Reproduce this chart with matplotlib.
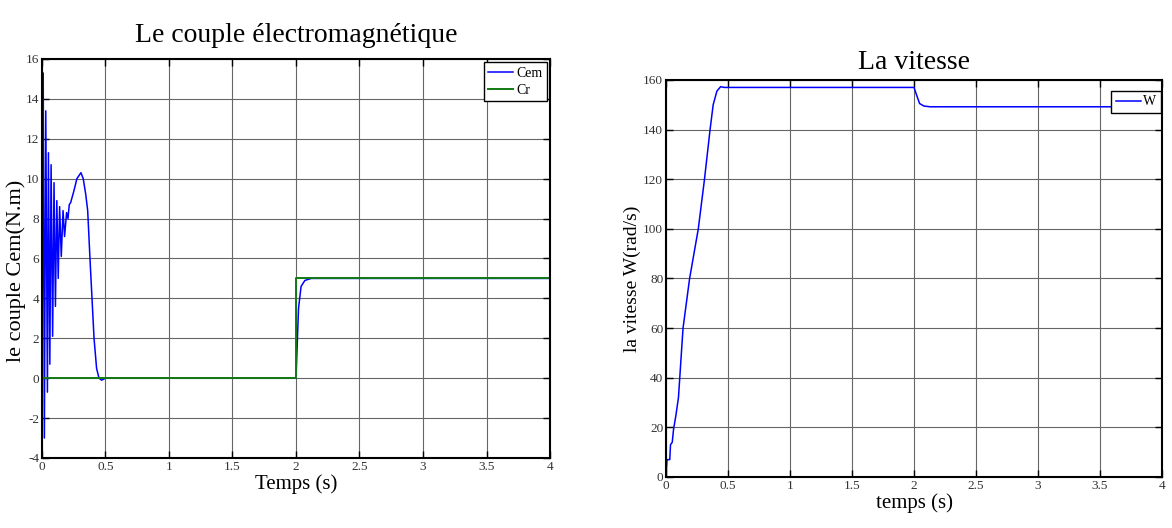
"""Couple électromagnétique et vitesse d'un moteur : réponse au démarrage et à l'application de la charge."""

import matplotlib

matplotlib.use("Agg")
import matplotlib.pyplot as plt

plt.rcParams["font.family"] = ["Liberation Serif", "DejaVu Serif"]

# couple électromagnétique Cem (N.m)
t_cem = [0.0, 0.010, 0.019, 0.030, 0.043, 0.051, 0.062, 0.072, 0.084, 0.095,
         0.106, 0.117, 0.128, 0.139, 0.152, 0.166, 0.178, 0.194, 0.205, 0.215,
         0.226, 0.252, 0.275, 0.307, 0.325, 0.345, 0.360, 0.378, 0.394, 0.410,
         0.430, 0.449, 0.470, 0.500, 2.000, 2.020, 2.040, 2.070, 2.120, 4.000]
cem = [0.0, 15.3, -3.0, 13.4, -0.7, 11.3, 0.7, 10.7, 2.1, 9.8,
       3.6, 8.9, 5.0, 8.6, 6.1, 8.4, 7.1, 8.3, 8.0, 8.7,
       8.8, 9.4, 10.0, 10.3, 10.0, 9.2, 8.4, 6.0, 4.0, 2.0,
       0.5, 0.0, -0.1, 0.0, 0.0, 3.5, 4.6, 4.9, 5.0, 5.0]

# couple résistant Cr (N.m)
t_cr = [0.0, 2.0, 2.0, 4.0]
cr = [0.0, 0.0, 5.0, 5.0]

# vitesse W (rad/s)
t_w = [0.0, 0.008, 0.030, 0.036, 0.050, 0.060, 0.080, 0.100, 0.137, 0.190,
       0.260, 0.310, 0.355, 0.380, 0.410, 0.440, 0.470, 0.500, 2.000, 2.020,
       2.045, 2.080, 2.130, 4.000]
w = [0.0, 7.0, 7.0, 13.0, 14.0, 19.0, 25.0, 32.0, 60.0, 80.0,
     100.0, 120.0, 140.0, 150.0, 155.5, 157.3, 157.0, 157.0, 157.0, 154.0,
     150.5, 149.5, 149.2, 149.2]

x_ticks = [0, 0.5, 1, 1.5, 2, 2.5, 3, 3.5, 4]
x_tick_labels = ["0", "0.5", "1", "1.5", "2", "2.5", "3", "3.5", "4"]
cem_ticks = [-4, -2, 0, 2, 4, 6, 8, 10, 12, 14, 16]
w_ticks = [0, 20, 40, 60, 80, 100, 120, 140, 160]


def _style_axes(ax, yticks):
    """Matlab-like look: boxed axes, inward ticks, gray grid."""
    ax.set_xlim(0, 4)
    ax.set_xticks(x_ticks)
    ax.set_xticklabels(x_tick_labels)
    ax.set_yticks(yticks)
    ax.set_yticklabels([str(v) for v in yticks])
    ax.set_ylim(yticks[0], yticks[-1])
    ax.tick_params(direction="in", top=True, right=True, length=5, width=1.0,
                   labelsize=9.5, pad=2, colors="black", labelcolor="#333333")
    for spine in ax.spines.values():
        spine.set_linewidth(1.5)
        spine.set_color("black")
    ax.grid(True, color="0.4", linewidth=0.8)
    ax.set_axisbelow(True)


fig = plt.figure(figsize=(11.72, 5.28), dpi=100)
ax_cem = fig.add_axes([0.0358, 0.1326, 0.4335, 0.7557])
ax_w = fig.add_axes([0.5683, 0.0966, 0.4232, 0.7519])

ax_cem.plot(t_cem, cem, color="#0000ff", linewidth=1.1, label="Cem")
ax_cem.plot(t_cr, cr, color="#127a12", linewidth=1.4, label="Cr")
_style_axes(ax_cem, cem_ticks)
ax_cem.set_title("Le couple électromagnétique", fontsize=20, pad=12)
ax_cem.set_xlabel("Temps (s)", fontsize=15, labelpad=1)
ax_cem.set_ylabel("le couple Cem(N.m)", fontsize=16)
ax_cem.yaxis.set_label_coords(-0.032, 0.47)
ax_cem.legend(loc="upper right", fontsize=10, fancybox=False, edgecolor="black",
              framealpha=1, handlelength=1.8, borderaxespad=0.25,
              handletextpad=0.2, borderpad=0.3, labelspacing=0.3)

ax_w.plot(t_w, w, color="#0000ff", linewidth=1.1, label="W")
_style_axes(ax_w, w_ticks)
ax_w.set_title("La vitesse", fontsize=20, pad=8)
ax_w.set_xlabel("temps (s)", fontsize=15, labelpad=1)
ax_w.set_ylabel("la vitesse W(rad/s)", fontsize=14)
ax_w.yaxis.set_label_coords(-0.05, 0.5)
ax_w.legend(loc="upper right", bbox_to_anchor=(1.0, 0.975), fontsize=10,
            fancybox=False, edgecolor="black", framealpha=1, handlelength=1.8,
            borderaxespad=0.1, handletextpad=0.2, borderpad=0.3)

fig.savefig("out.png", dpi=100)
